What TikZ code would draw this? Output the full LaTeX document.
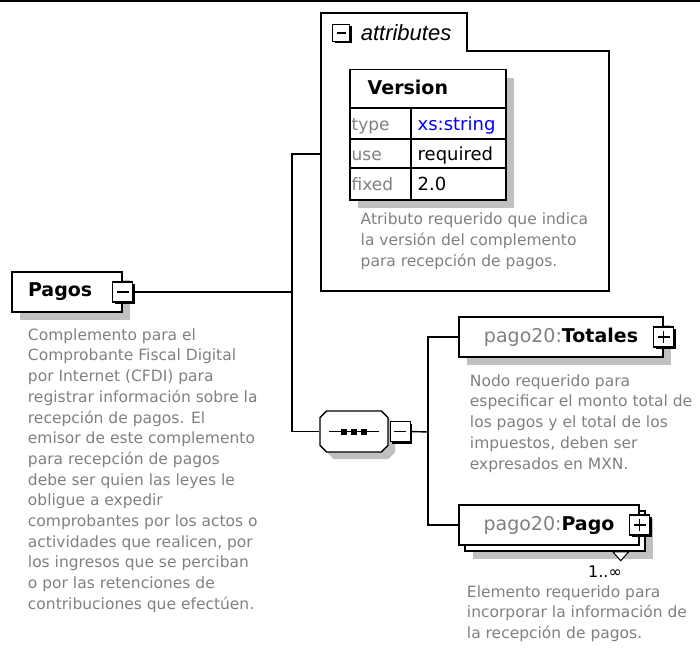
\documentclass[tikz,border=0pt]{standalone}
\usepackage{fontspec}
\setmainfont{DejaVu Sans}
\newfontfamily\arialfont{Liberation Sans}
\usepackage{xcolor}
\usetikzlibrary{positioning,shapes.misc,shadows}
\definecolor{descgray}{RGB}{128,128,128}
\definecolor{shadegray}{RGB}{192,192,192}
\definecolor{xsblue}{RGB}{0,0,255}

\begin{document}
\begin{tikzpicture}[x=1pt, y=-1pt, line width=1.4pt, node distance=12pt, font=\fontsize{15.5}{20.7}\selectfont]
\tikzstyle{elembase}=[draw, fill=white, line width=1.5pt, minimum height=40pt, inner sep=0pt, font=\fontsize{19}{22}\selectfont\bfseries]
\tikzstyle{elem}=[elembase, general shadow={fill=shadegray, shadow xshift=8pt, shadow yshift=-8pt}]
\tikzstyle{btn}=[draw, fill=white, line width=1.2pt, minimum size=20pt, inner sep=0pt, general shadow={fill=black, shadow xshift=2pt, shadow yshift=-2pt}]
\tikzstyle{minusbtn}=[btn, path picture={\draw[line width=1.4pt] ([xshift=4pt]path picture bounding box.west) -- ([xshift=-4pt]path picture bounding box.east);}]
\tikzstyle{plusbtn}=[btn, path picture={\draw[line width=1.4pt] ([xshift=4pt]path picture bounding box.west) -- ([xshift=-4pt]path picture bounding box.east) ([yshift=4pt]path picture bounding box.south) -- ([yshift=-4pt]path picture bounding box.north);}]
\tikzstyle{desc}=[text=descgray, align=left, inner sep=0pt]
\tikzstyle{rowlbl}=[text=descgray, anchor=base west, inner sep=0pt, font=\fontsize{17}{20}\selectfont]
\tikzstyle{rowval}=[anchor=base west, inner sep=0pt, font=\fontsize{18}{20}\selectfont]

\useasboundingbox (0,0) rectangle (700,658);
\fill (0,0) rectangle (700,2.5);

% root element
\node[elem, text width=78pt, align=left, inner xsep=16pt] (pagos) at (67,292) {Pagos};
\node[minusbtn] (pagosbtn) at (pagos.east) {};
\node[desc, below right=15pt and 16pt of pagos.south west] (pagosdesc) {Complemento para el\\Comprobante Fiscal Digital\\por Internet (CFDI) para\\registrar información sobre la\\recepción de pagos. El\\emisor de este complemento\\para recepción de pagos\\debe ser quien las leyes le\\obligue a expedir\\comprobantes por los actos o\\actividades que realicen, por\\los ingresos que se perciban\\o por las retenciones de\\contribuciones que efectúen.};

% attributes
\draw[line width=1.5pt] (321,291) -- (321,13) -- (467,13) -- (467,51) -- (609,51) -- (609,291) -- cycle;
\coordinate (attrin) at (321,154);
\node[minusbtn, minimum size=17pt] (attrbtn) at (341,33) {};
\node[right=10pt of attrbtn, inner sep=0pt, font=\arialfont\itshape\fontsize{22}{26}\selectfont] (attrlbl) {attributes};

\node[elem, minimum width=156pt, minimum height=130pt, anchor=north west] (version) at (349,69) {};
\node[anchor=base west, inner sep=0pt, font=\fontsize{19}{22}\selectfont\bfseries] (vername) at (367,95) {Version};
\draw[line width=1.2pt] ([yshift=-39pt]version.north west) -- ([yshift=-39pt]version.north east)
  ([yshift=-70pt]version.north west) -- ([yshift=-70pt]version.north east)
  ([yshift=-99pt]version.north west) -- ([yshift=-99pt]version.north east)
  ([xshift=62pt,yshift=-39pt]version.north west) -- ([xshift=62pt]version.south west);
\foreach \lbl/\val/\yy in {type/\textcolor{xsblue}{xs:string}/130, use/required/160, fixed/2.0/190} {
  \node[rowlbl] (lbl\lbl) at (351,\yy) {\lbl};
  \node[rowval] (val\lbl) at (417,\yy) {\val};
}
\node[desc, below right=12pt and 11pt of version.south west] (attrdesc) {Atributo requerido que indica\\la versión del complemento\\para recepción de pagos.};

% sequence
\node[draw, fill=white, chamfered rectangle, chamfered rectangle xsep=10pt, minimum width=68pt, minimum height=41pt, general shadow={fill=shadegray, shadow xshift=7pt, shadow yshift=-7pt}] (seq) at (354,431.5) {};
\draw[line width=1.2pt] ([xshift=10pt]seq.west) -- ([xshift=-10pt]seq.east);
\foreach \dx in {-10,0,10}
  \fill ([xshift=\dx pt]seq.center) ++(-3pt,-3pt) rectangle ++(6pt,6pt);
\node[minusbtn, right=1pt of seq] (seqbtn) {};

\coordinate (forkA) at (292,292);
\coordinate (forkB) at (428,432);

% children
\node[elem, minimum width=204pt] (totales) at (561,337) {\textcolor{descgray}{\mdseries pago20:}Totales};
\node[plusbtn] (totalesbtn) at (totales.east) {};
\node[desc, below right=16pt and 11pt of totales.south west] (totalesdesc) {Nodo requerido para\\especificar el monto total de\\los pagos y el total de los\\impuestos, deben ser\\expresados en MXN.};

\node[elem, minimum width=180pt] (pagoback) at (555,531) {};
\node[elembase, minimum width=180pt] (pago) at (549,525) {\textcolor{descgray}{\mdseries pago20:}Pago};
\node[plusbtn] (pagobtn) at (pago.east) {};
\draw[fill=white, line width=1pt] ([xshift=-33pt]pagoback.south east) -- ([xshift=-17pt]pagoback.south east) -- ([xshift=-25pt,yshift=-9pt]pagoback.south east) -- cycle;
\node[inner sep=0pt, font=\fontsize{16}{18}\selectfont] (mult) at (605,572) {1..∞};
\node[desc, below right=39pt and 8pt of pago.south west] (pagodesc) {Elemento requerido para\\incorporar la información de\\la recepción de pagos.};

\draw (pagosbtn.east) -- (forkA);
\draw (attrin) -| (forkA) |- (seq.west);
\draw (seqbtn.east) -- (forkB);
\draw (totales.west) -| (forkB) |- (pago.west);
\end{tikzpicture}
\end{document}
